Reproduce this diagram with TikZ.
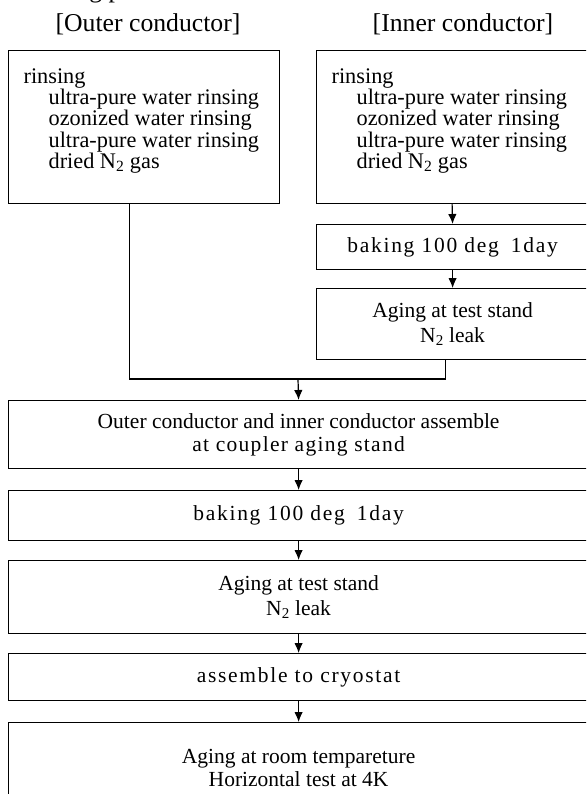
\documentclass[tikz,border=0pt]{standalone}
\usepackage{fontspec}
\setmainfont{Liberation Serif}
\usetikzlibrary{arrows.meta}

\tikzset{
  box/.style={draw, line width=1.2pt, anchor=north west, inner sep=0pt, align=center,
    font=\fontsize{21.5}{24}\selectfont},
  wide/.style={box, minimum width=580pt},
  half/.style={box, minimum width=272pt},
  rinse/.style={box, inner xsep=15pt, minimum width=271pt, minimum height=153pt, align=left},
  head/.style={anchor=base, inner sep=0pt, font=\fontsize{25.7}{30}\selectfont},
  spaced/.style={font=\fontsize{21.5}{24}\selectfont\addfontfeatures{LetterSpace=8}},
  link/.style={line width=1.2pt},
  arr/.style={link, -{Latex[length=10pt,width=8.5pt]}}
}

\newcommand{\rinsetext}{\parbox[c][153pt][t]{241pt}{\fontsize{22.3}{19.6}\selectfont
  \vspace*{18pt}rinsing\\
  \hspace*{25pt}ultra-pure water rinsing\\
  \hspace*{25pt}ozonized water rinsing\\
  \hspace*{25pt}ultra-pure water rinsing\\
  \hspace*{25pt}dried N\textsubscript{2} gas}}

\begin{document}
\begin{tikzpicture}[x=1pt, y=-1pt]
  \useasboundingbox (0,0) rectangle (586,794);
  \clip (0,0) rectangle (586,794);

  % Headings
  \node[head, anchor=base west] (intro) at (2,-2.5) {following process:};
  \node[head] (ohead) at (148,32) {[Outer conductor]};
  \node[head] (ihead) at (463,32) {[Inner conductor]};

  % Outer and inner conductor
  \node[rinse] (orinse) at (8,50) {\rinsetext};
  \node[rinse] (irinse) at (316,50) {\rinsetext};
  \node[half, minimum height=45pt, spaced] (ibake) at (316,224) {baking 100 deg\hspace{12pt}1day};
  \node[half, minimum height=71pt, font=\fontsize{21.5}{25}\selectfont] (iage) at (316,288)
    {Aging at test stand\\N\textsubscript{2} leak};

  % After assembly
  \node[wide, minimum height=68pt, font=\fontsize{21.5}{23}\selectfont] (assem) at (8,400)
    {Outer conductor and inner conductor assemble\\{\addfontfeatures{LetterSpace=6}at coupler aging stand}};
  \node[wide, minimum height=50pt, spaced] (bake) at (8,490) {baking 100 deg\hspace{12pt}1day};
  \node[wide, minimum height=73pt, font=\fontsize{21.5}{25}\selectfont] (age) at (8,560)
    {Aging at test stand\\N\textsubscript{2} leak};
  \node[wide, minimum height=47pt, spaced] (cryo) at (8,653) {assemble to cryostat};
  \node[wide, minimum height=90pt, font=\fontsize{21.5}{23}\selectfont] (room) at (8,722)
    {Aging at room tempareture\\Horizontal test at 4K};

  % Connectors
  \coordinate (merge) at (298,379);
  \draw[arr] (irinse.south) -- (ibake.north);
  \draw[arr] (ibake.south) -- (iage.north);
  \draw[link] ([xshift=-15pt]orinse.south) |- (merge) -| ([xshift=-7pt]iage.south);
  \draw[arr] (merge) -- (assem.north);
  \draw[arr] (assem.south) -- (bake.north);
  \draw[arr] (bake.south) -- (age.north);
  \draw[arr] (age.south) -- (cryo.north);
  \draw[arr] (cryo.south) -- (room.north);
\end{tikzpicture}
\end{document}
